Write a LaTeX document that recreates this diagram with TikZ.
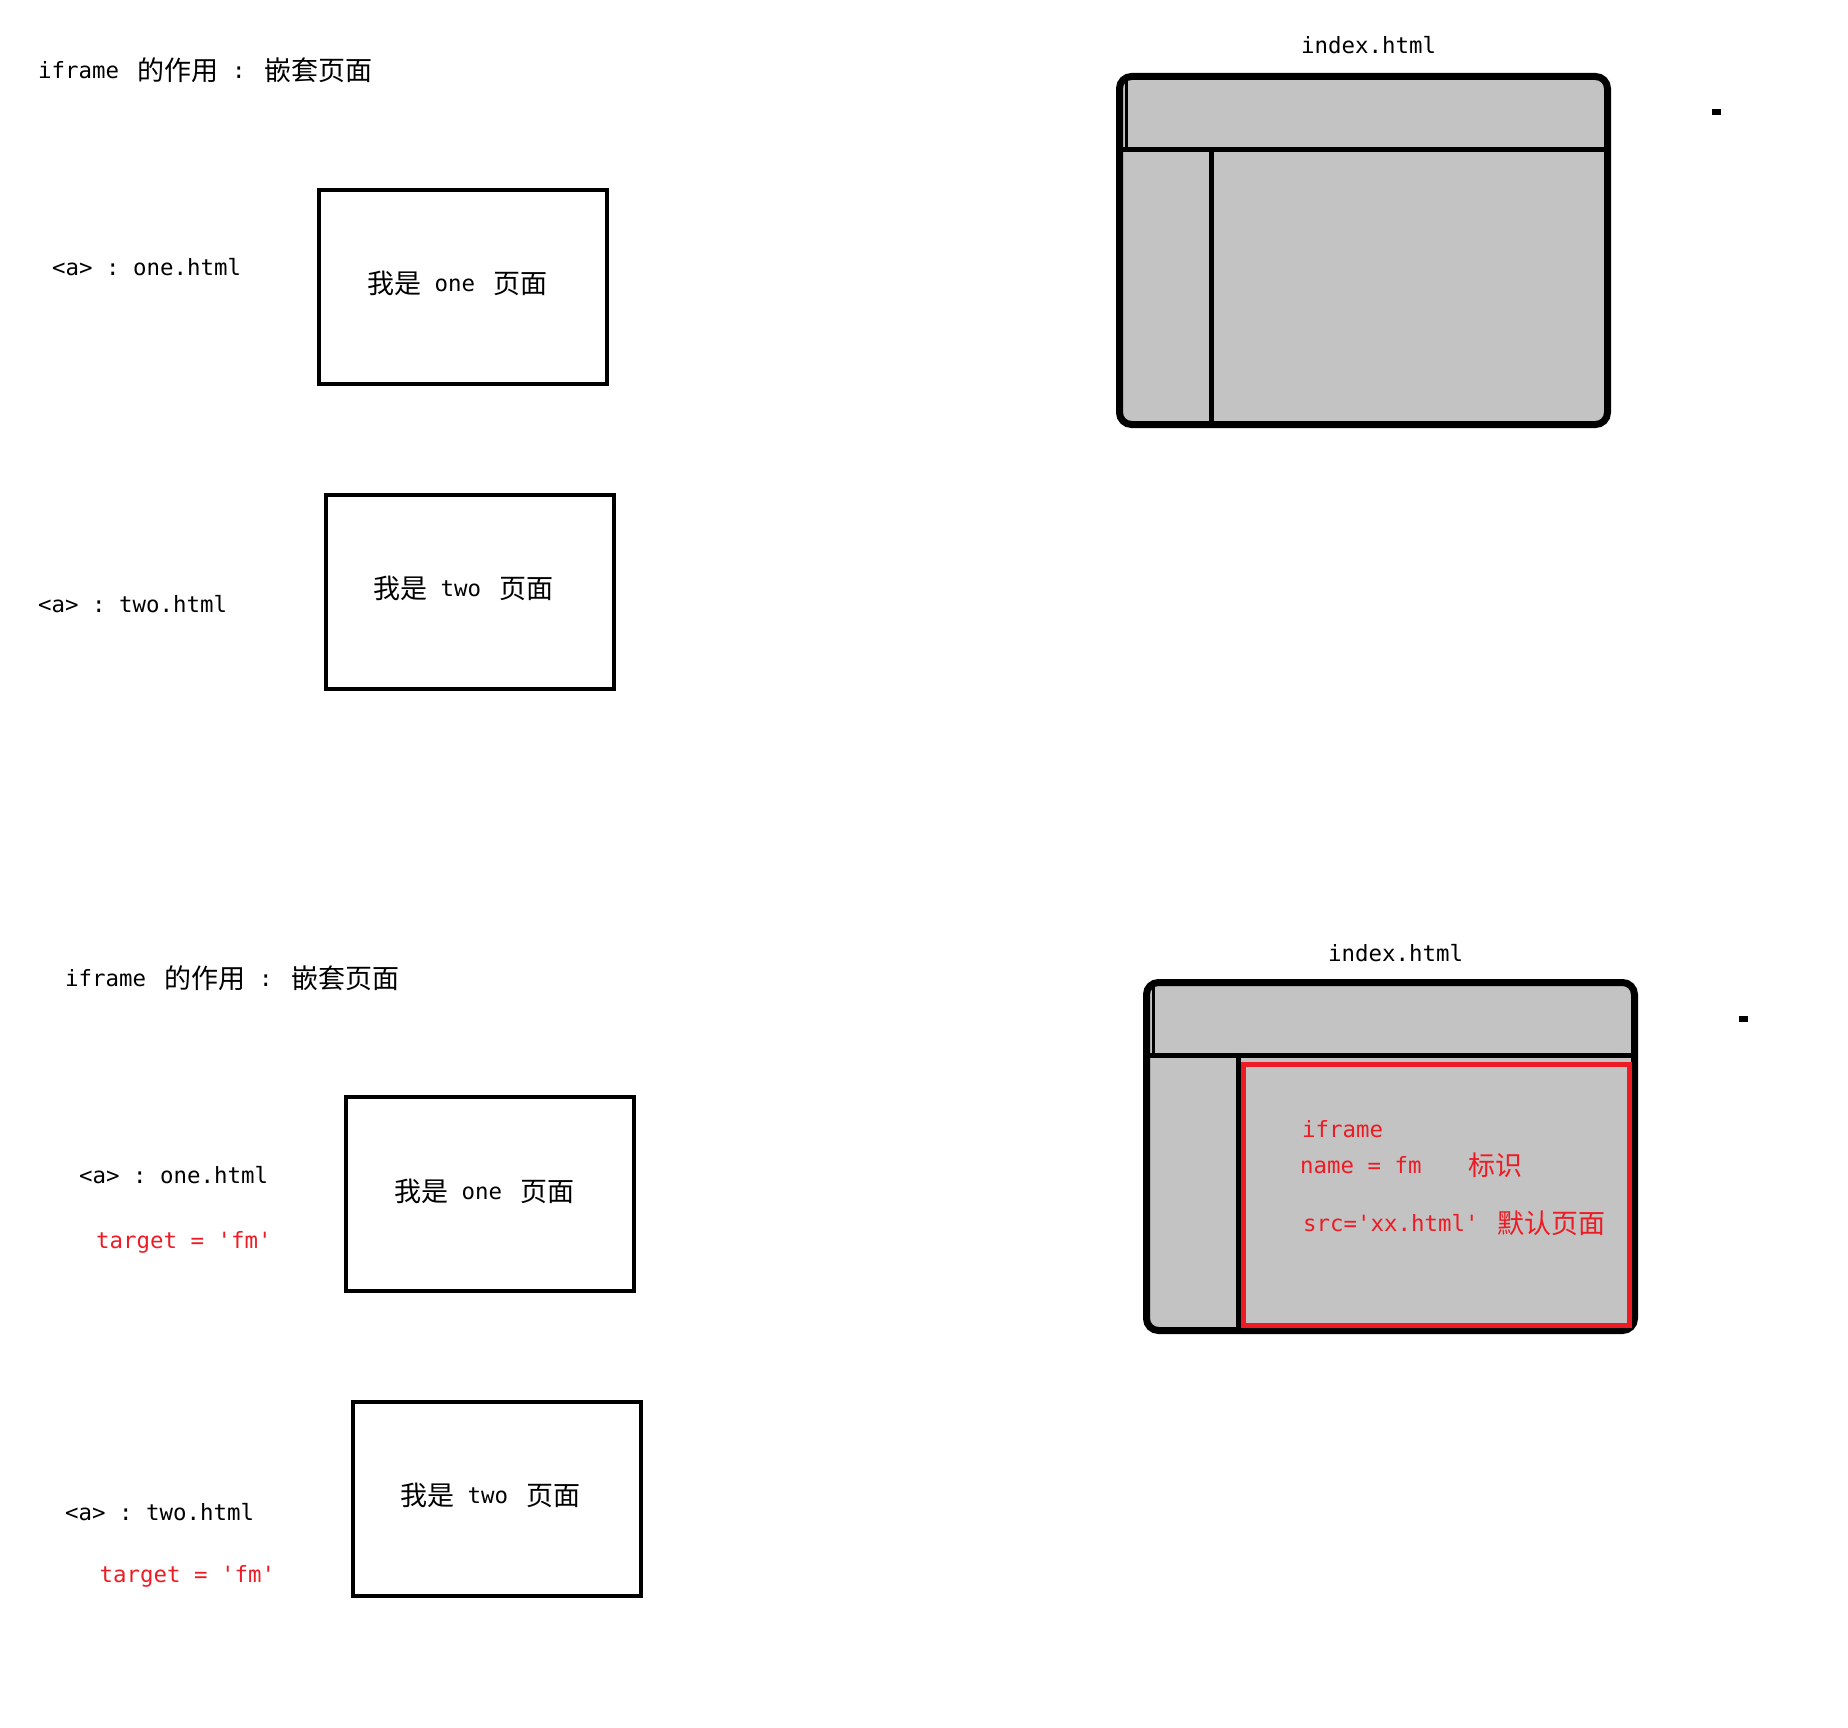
\documentclass[tikz,border=0pt]{standalone}
\usepackage{fontspec}
\setmonofont{DejaVu Sans Mono}
\newfontfamily\zhfont{Noto Sans CJK SC}
\usetikzlibrary{positioning}
\definecolor{paintred}{HTML}{ED1C24}
\definecolor{paintgray}{HTML}{C3C3C3}
\newcommand{\zh}[1]{\raisebox{-2pt}{\fontsize{27}{30}\selectfont\zhfont #1}}
\newcommand{\gap}{\hspace{5pt}}

\begin{document}
\begin{tikzpicture}[x=1pt,y=-1pt,font=\fontsize{22.4}{27}\selectfont\ttfamily,
  txt/.style={anchor=base west,inner sep=0pt},
  note/.style={txt,text=paintred},
  pagebox/.style={draw,line width=4pt,minimum width=288pt,minimum height=194pt,inner sep=0pt,outer sep=0pt},
  winbox/.style={draw,line width=7pt,fill=paintgray,rounded corners=12pt,minimum width=488pt,minimum height=348pt,inner sep=0pt,outer sep=0pt},
  divider/.style={line width=5pt},
  framebox/.style={draw=paintred,line width=5pt,minimum width=386pt,minimum height=261pt,inner sep=0pt,outer sep=0pt},
  dot/.style={fill,minimum width=9pt,minimum height=6pt,inner sep=0pt}]
\useasboundingbox (0,0) rectangle (1848,1728);

% without target
\node[txt] (title) at (38,79) {iframe \gap\zh{的作用} : \gap\zh{嵌套页面}};
\node[txt] (linkone) at (52,276) {<a> : one.html};
\node[pagebox] (pageone) at (463,287) {};
\node[txt] (onetext) at (367,292) {\zh{我是} one \gap\zh{页面}};
\node[txt] (linktwo) at (38,612) {<a> : two.html};
\node[pagebox] (pagetwo) at (470,592) {};
\node[txt] (twotext) at (373,596) {\zh{我是} two \gap\zh{页面}};

\node[txt] (indexname) at (1301,54) {index.html};
\node[winbox] (index) at (1363.5,250.5) {};
\draw[divider] ([yshift=-73pt]index.north west) -- ([yshift=-73pt]index.north east);
\draw[divider] ([xshift=92pt,yshift=-73pt]index.north west) -- ([xshift=92pt]index.south west);
\draw[line width=3pt] ([xshift=6.5pt,yshift=-3pt]index.north west) -- ([xshift=6.5pt,yshift=-73pt]index.north west);
\node[dot] (markone) at (1716.5,112) {};

% with target and iframe
\node[txt] (titlefm) at (65,986) {iframe \gap\zh{的作用} : \gap\zh{嵌套页面}};
\node[txt] (linkthree) at (79,1183) {<a> : one.html};
\node[note] (targetone) at (96,1248) {target = \textquotesingle fm\textquotesingle};
\node[pagebox] (pagethree) at (490,1194) {};
\node[txt] (threetext) at (394,1199) {\zh{我是} one \gap\zh{页面}};
\node[txt] (linkfour) at (65,1520) {<a> : two.html};
\node[note] (targettwo) at (99.5,1582) {target = \textquotesingle fm\textquotesingle};
\node[pagebox] (pagefour) at (497,1499) {};
\node[txt] (fourtext) at (400,1503) {\zh{我是} two \gap\zh{页面}};

\node[txt] (indexnamefm) at (1328,961) {index.html};
\node[winbox] (indexfm) at (1390.5,1156.5) {};
\draw[divider] ([yshift=-73pt]indexfm.north west) -- ([yshift=-73pt]indexfm.north east);
\draw[divider] ([xshift=92pt,yshift=-73pt]indexfm.north west) -- ([xshift=92pt]indexfm.south west);
\draw[line width=3pt] ([xshift=6.5pt,yshift=-3pt]indexfm.north west) -- ([xshift=6.5pt,yshift=-73pt]indexfm.north west);
\node[framebox] (iframe) at (1436.5,1195) {};
\node[note] (framename) at (1302,1137) {iframe};
\node[note] (frameid) at (1300,1173) {name = fm\hspace{47pt}\zh{标识}};
\node[note] (framesrc) at (1303,1231) {src=\textquotesingle xx.html\textquotesingle{} \gap\zh{默认页面}};
\node[dot] (marktwo) at (1743.5,1019) {};
\end{tikzpicture}
\end{document}
